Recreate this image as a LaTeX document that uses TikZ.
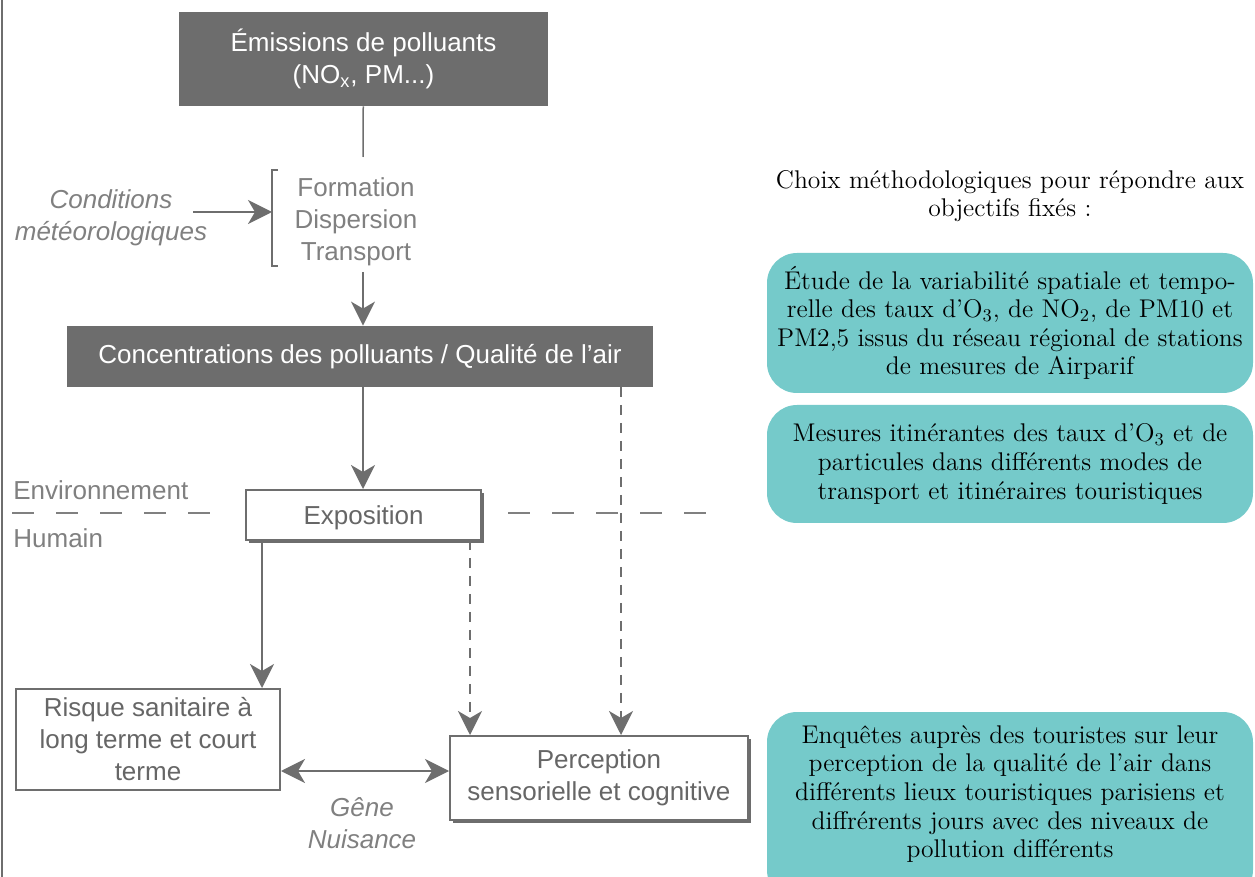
\documentclass[tikz,border=0pt]{standalone}
\usepackage{fontspec}
\newfontfamily\arial{Liberation Sans}
\usepackage{xcolor}
\usetikzlibrary{arrows.meta, shadows, positioning}

\definecolor{boxgray}{HTML}{6D6D6D}
\definecolor{linegray}{HTML}{6E6E6E}
\definecolor{textgray}{HTML}{808080}
\definecolor{darktext}{HTML}{666666}
\definecolor{choixteal}{HTML}{75CACA}

\tikzset{
	sans/.style={font=\arial\fontsize{13}{16}\selectfont, align=center, inner sep=0pt},
	darkbox/.style={sans, fill=boxgray, text=white},
	whitebox/.style={sans, draw=linegray, line width=1pt, fill=white, text=darktext},
	shadowed/.style={drop shadow={shadow xshift=1.6pt, shadow yshift=-1.6pt, fill=boxgray, opacity=1}},
	graytext/.style={sans, text=textgray},
	link/.style={draw=linegray, line width=0.75pt},
	dashlink/.style={link, dash pattern=on 5pt off 4pt},
	divider/.style={draw=textgray, line width=0.75pt, dash pattern=on 11pt off 11pt},
	choixbox/.style={fill=choixteal, rounded corners=15pt, inner sep=0pt, align=center,
		font=\fontsize{12.8}{14.3}\selectfont},
	choixtext/.style={align=center, inner sep=0pt, font=\fontsize{12.8}{14.3}\selectfont},
	>={Stealth[length=12pt, width=12pt, inset=3.5pt]}
}

\begin{document}
\begin{tikzpicture}[x=0.5pt, y=-0.5pt]
		\useasboundingbox (0,0) rectangle (1255,877);
		\clip (0,0) rectangle (1255,877);
		
		%left border
		\draw[linegray, line width=0.75pt] (2,0) -- (2,877);
		
		%main chain
		\node[darkbox, minimum width=184.5pt, minimum height=47pt] (emis) at (363.5,59)
			{Émissions de polluants\\(NO\textsubscript{x}, PM...)};
		\node[graytext] (procs) at (356,222) {Formation\\Dispersion\\Transport};
		\node[darkbox, minimum width=293pt, minimum height=30.5pt] (conc) at (360,356.5)
			{Concentrations des polluants / Qualité de l’air};
		\node[whitebox, shadowed, minimum width=117.5pt, minimum height=25pt, text depth=0pt] (expo) at (363.5,515)
			{Exposition};
		\node[whitebox, minimum width=132pt, minimum height=50.5pt] (risque) at (148,739.5)
			{Risque sanitaire à\\long terme et court\\terme};
		\node[whitebox, shadowed, minimum width=149pt, minimum height=42pt] (percep) at (599,778)
			{Perception\\sensorielle et cognitive};
		
		%side labels
		\node[graytext, font=\arial\itshape\fontsize{13}{16}\selectfont] (meteo) at (111,218)
			{Conditions\\météorologiques};
		\node[graytext, anchor=west] (envir) at (13,490) {Environnement};
		\node[graytext, anchor=west] (humain) at (13,538) {Humain};
		\node[graytext, font=\arial\itshape\fontsize{13}{16}\selectfont] (gene) at (362,823)
			{Gêne\\Nuisance};
		
		%coordinates
		\coordinate (emis end) at (363,157);
		\coordinate (procs end) at (363,272);
		\coordinate (meteo end) at (193,212);
		\coordinate (bracket) at (272,212);
		\coordinate (qa) at (621,387);
		\coordinate (expo left) at (262,540);
		\coordinate (expo right) at (470,540);
		\coordinate (gene link) at (365,771);
		\coordinate (div left) at (12,513);
		\coordinate (div right) at (715,513);
		
		%bracket
		\draw[link] (278,170) -- (272,170) -- (272,266) -- (278,266);
		
		%connectors
		\draw[link] (emis) -- (emis end);
		\draw[link, ->] (procs end) -- (procs end |- conc.north);
		\draw[link, ->] (meteo end) -- (bracket);
		\draw[link, ->] (conc.south -| procs end) -- (procs end |- expo.north);
		\draw[dashlink, ->] (qa) -- (qa |- percep.north);
		\draw[link, ->] (expo left) -- (expo left |- risque.north);
		\draw[dashlink, ->] (expo right) -- (expo right |- percep.north);
		\draw[link, <->] (risque.east |- gene link) -- (percep.west |- gene link);
		
		%divider
		\draw[divider] (div left) -- ([xshift=-14pt]div left -| expo.west);
		\draw[divider] ([xshift=13pt]div right -| expo.east) -- (div right);
		
		%methodological choices
		\node[choixtext] (choix) at (1010,196)
			{Choix méthodologiques pour répondre aux\\objectifs fixés :};
		\node[choixbox, minimum width=243pt, minimum height=70pt] (airparif) at (1010,323)
			{Étude de la variabilité spatiale et tempo-\\relle des taux d’O\textsubscript{3}, de NO\textsubscript{2}, de PM10 et\\PM2,5 issus du réseau régional de stations\\de mesures de Airparif};
		\node[choixbox, minimum width=243pt, minimum height=59pt] (mesures) at (1010,464)
			{Mesures itinérantes des taux d’O\textsubscript{3} et de\\particules dans différents modes de\\transport et itinéraires touristiques};
		\fill[choixteal, rounded corners=15pt] (767,712) rectangle (1253,900);
		\node[choixtext] (enquetes) at (1010,794)
			{Enquêtes auprès des touristes sur leur\\perception de la qualité de l’air dans\\différents lieux touristiques parisiens et\\diffrérents jours avec des niveaux de\\pollution différents};
	\end{tikzpicture}
\end{document}
